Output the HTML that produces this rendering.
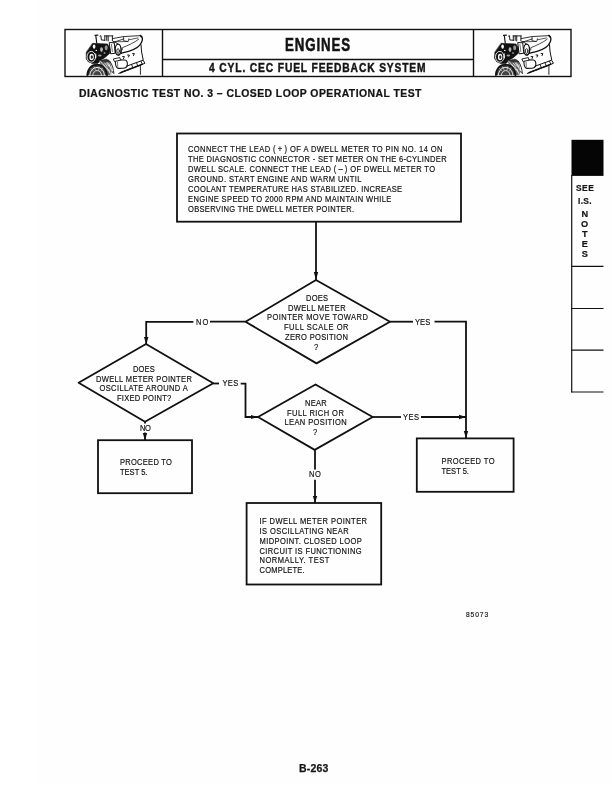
<!DOCTYPE html>
<html><head><meta charset="utf-8">
<style>
html,body{margin:0;padding:0;background:#fff;}
body{width:612px;height:792px;overflow:hidden;position:relative;}
svg{position:absolute;left:0;top:0;will-change:transform;}
text{font-family:"Liberation Sans",sans-serif;fill:#141414;}
.txt text{stroke:#141414;stroke-width:0.18px;}
</style></head><body>
<svg width="612" height="792" viewBox="0 0 612 792">
<defs>
<g id="eng" stroke="#111" fill="none" stroke-linecap="round" stroke-linejoin="round">
  <!-- bracket and top rods -->
  <path d="M95,35.4 L97.9,35.1 M95.8,35.4 L96.7,42.8" stroke-width="1.15"/>
  <path d="M100,36.1 L100.9,35.6 L101.4,40 L104.6,40.2 M104.6,35.9 L112.9,35.9 M104.8,36 V40.6 M106.7,36 V40.4 M108.2,36 V41 M112.4,36.2 V40.9" stroke-width="0.95"/>
  <path d="M114,42.1 L124,38.9" stroke-width="0.8"/>
  <!-- valve cover -->
  <path d="M112.6,38.6 L123.6,36.6 L140.6,35.6" stroke-width="0.85"/>
  <path d="M140.4,35.5 C142.6,36.4 143,39.5 141.6,42.3 C140,46.5 134.5,49.6 128.5,51.3 L121.5,53.2" stroke-width="1.35"/>
  <path d="M140.6,35.7 L141.6,36.9" stroke-width="1.6"/>
  <path d="M122.3,49.8 L122.3,47.7 C128,45.5 134.5,42.5 138.7,39.2" stroke-width="0.75"/>
  <path d="M113.2,41.8 L127.6,41.5 M123.6,36.7 L123.3,40.5 L128.2,41.6 L128.9,38.7 M128.9,39.8 L138,37.9" stroke-width="0.7"/>
  <!-- front black mass -->
  <path d="M92.8,43.3 L107.5,44 L110.4,49 L109.6,53.5 L105,57.5 L100.5,60.5 L97.5,63.5 L92,63.5 L86.2,59 L86.3,52.5 Z" fill="#111" stroke-width="0.6"/>
  <ellipse cx="94.1" cy="46.6" rx="1.3" ry="2.2" fill="#fff" stroke="none"/>
  <ellipse cx="96.3" cy="50.4" rx="0.8" ry="0.7" fill="#fff" stroke="none"/>
  <ellipse cx="101.5" cy="49.6" rx="1.4" ry="2.4" fill="#ddd" stroke="none" opacity="0.8"/>
  <ellipse cx="106.2" cy="47.8" rx="1.5" ry="2.5" fill="#ccc" stroke="none" opacity="0.7"/>
  <ellipse cx="99.8" cy="55.6" rx="1.8" ry="1" fill="#ddd" stroke="none" opacity="0.7"/>
  <ellipse cx="104.5" cy="53" rx="1" ry="0.8" fill="#fff" stroke="none" opacity="0.7"/>
  <!-- water pump pulley -->
  <ellipse cx="91.4" cy="56.7" rx="5.4" ry="6.5" fill="#111" stroke="none"/>
  <ellipse cx="91.3" cy="56.8" rx="4.3" ry="5.4" fill="none" stroke="#fff" stroke-width="0.9"/>
  <ellipse cx="91.6" cy="57" rx="2.2" ry="3.3" fill="#fff" stroke="none"/>
  <ellipse cx="91.8" cy="57.1" rx="1.1" ry="1.8" fill="#222" stroke="none"/>
  <ellipse cx="95.8" cy="56" rx="0.6" ry="3" fill="#fff" stroke="none" opacity="0.8"/>
  <!-- rocker arm bracket & pulley -->
  <path d="M109.6,42.6 L114.2,42.8 L115.3,53.2 L111,53.8 Z" fill="#fff" stroke-width="1"/>
  <path d="M111.4,44.5 L112.4,51.5" stroke-width="0.6"/>
  <path d="M113.5,41.6 C117,42.6 120,45.2 121,48.5 C121.9,52 121,55 118.5,55.4" stroke-width="0.9"/>
  <ellipse cx="118.1" cy="49.6" rx="2.9" ry="5.4" fill="#fff" stroke-width="1.3"/>
  <ellipse cx="118.1" cy="51" rx="1.3" ry="2.3" stroke-width="0.9"/>
  <!-- crank pulley (bottom) -->
  <path d="M99,60.5 L106.5,58.5 L110.2,62 L111.6,68 L111.2,75.3 L104,75.3 Z" fill="#666" stroke="none"/>
  <path d="M100.5,61.5 L104.8,66.5 M103.2,61.2 L107,66 M105.6,61 L109,66.4 M107.6,62.2 L110.4,67.6 M109.3,64.5 L111.2,69.8 M103.8,64.8 L107.6,70.4 M106.5,66.8 L109.6,72.4 M108.8,69.5 L110.8,75" stroke="#fff" stroke-width="0.7"/>
  <path d="M86.4,75.3 C86.6,68.6 90.8,63.8 97,63.8 C103,63.8 107.6,68.5 108,75.3 Z" fill="#444" stroke="none"/>
  <path d="M87.4,75.3 C87.6,69.2 91.5,64.8 97,64.8 C102.5,64.8 106.6,69 107,75.3" stroke="#111" stroke-width="1.6"/>
  <path d="M89.8,75.3 C90.2,70.6 93,67.5 97,67.5 C101,67.5 104,70.4 104.4,75.3" stroke="#fff" stroke-width="0.9"/>
  <path d="M92.8,75.3 C93.2,72.4 94.8,70.6 97.1,70.6 C99.6,70.6 101.2,72.3 101.5,75.3" stroke="#fff" stroke-width="0.8"/>
  <path d="M91,68.5 L93.5,71 M94,66.8 L95.5,69.8 M99,66.8 L98.6,70 M102.5,68 L101,71" stroke="#fff" stroke-width="0.5"/>
  <path d="M99.5,60 L108.5,59.5 L110.5,62 L104,62.8 Z" fill="#222" stroke="none" opacity="0.8"/>
  <path d="M109.8,61.2 C112.5,65 113.5,69 113.9,73.5" stroke-width="0.9"/>
  <!-- 7 marks -->
  <path d="M122.6,56.6 h1.8 l-0.9,2 M127.6,55 h1.8 l-0.9,2 M132.6,53.6 h1.8 l-0.9,2" stroke-width="1"/>
  <!-- alternator -->
  <path d="M115.4,62.5 C115,60.5 117,59.8 119.5,59.9 L124.8,60 C127,60.2 127.5,62.5 127.3,65 C127.1,67.2 125.5,68.3 123,68.3 L118.5,68.4 C116.3,68.4 115.6,66.5 115.4,62.5 Z" fill="#fff" stroke-width="1.1"/>
  <path d="M113.7,58.9 L119.8,57.6 L120.6,60.2 L114.8,61.4 Z" fill="#fff" stroke-width="0.9"/>
  <path d="M117.5,62 L117.8,67" stroke-width="0.6"/>
  <!-- exhaust manifold -->
  <path d="M126.2,66.3 L143.1,60.2 L144.9,63.3 L118.8,73.4" stroke-width="1"/>
  <path d="M120.5,72.8 L124.8,70.9 M124.2,71.3 L128.3,69.6 M127.7,70 L131.8,68.3 M131.2,68.6 L135.3,67 M134.7,67.3 L138.5,65.8 M138,66 L142,64.4" stroke-width="1.5"/>
  <path d="M131.5,64.5 L132.8,67.4 M136.5,62.8 L137.8,65.8 M141,61.3 L142.3,64.2" stroke-width="0.9"/>
  <path d="M140.4,65.2 V74.4" stroke-width="0.9"/>
  <!-- block right edge -->
  <path d="M141,44.8 L141.6,52 L143.2,59.8" stroke-width="1"/>
  <path d="M112,71.2 L112.8,72.8" stroke-width="0.8"/>
</g>
</defs>
<rect id="pagetone" x="37.6" y="0" width="574.4" height="785" fill="#fefefe"/>
<g fill="none" stroke="#111" stroke-width="1.4">
  <rect x="65" y="29.5" width="506" height="47"/>
  <line x1="162.5" y1="29.5" x2="162.5" y2="76.5"/>
  <line x1="473.5" y1="29.5" x2="473.5" y2="76.5"/>
  <line x1="162.5" y1="59.5" x2="473.5" y2="59.5"/>
</g>
<use href="#eng"/>
<use href="#eng" transform="translate(408.5,0)"/>
<g fill="none" stroke="#111" stroke-width="1.8" stroke-linejoin="round">
  <rect x="177" y="133.5" stroke-linejoin="miter" width="284" height="88.2"/>
  <line x1="316" y1="221.7" x2="316" y2="280"/>
  <polygon points="316,280 390,321.7 316.5,363.4 245.5,321.7"/>
  <polyline points="245.5,321.7 210,321.7"/>
  <polyline stroke-linejoin="miter" points="193.4,321.8 146.2,321.8 146.2,344"/>
  <polyline points="390,321.7 413,321.7"/>
  <polyline stroke-linejoin="miter" points="434.5,321.7 466,321.7 466,438.4"/>
  <polygon points="146,344 213.3,383.3 145,421.8 78.6,382.7"/>
  <polyline points="213.3,383.5 219,383.5"/>
  <polyline stroke-linejoin="miter" points="240.7,383.6 245.5,383.6 245.5,417 258,417"/>
  <polygon points="315.5,384.5 372.7,417 314.7,449.9 258,417"/>
  <polyline points="372.7,417 401,417"/>
  <polyline points="421,417 466,417"/>
  <line x1="315" y1="449.9" x2="315" y2="469.4"/>
  <line x1="315" y1="479.7" x2="315" y2="503"/>
  <line x1="145" y1="421.8" x2="145" y2="423.5"/>
  <line x1="145" y1="432.4" x2="145" y2="440.2"/>
  <rect x="98" y="440.2" stroke-linejoin="miter" width="94" height="53"/>
  <rect x="416.8" y="438.4" stroke-linejoin="miter" width="96.8" height="53.4"/>
  <rect x="246.6" y="503" stroke-linejoin="miter" width="134.6" height="81.5"/>
</g>
<g fill="#111">
  <polygon points="313.8,272 318.2,272 316,280"/>
  <polygon points="143.9,337 148.5,337 146.2,344"/>
  <polygon points="463.8,431 468.2,431 466,438.4"/>
  <polygon points="251,414.9 251,419.1 258,417"/>
  <polygon points="459,414.8 459,419.2 466,417"/>
  <polygon points="312.8,496 317.2,496 315,503"/>
  <polygon points="142.8,433 147.2,433 145,440.2"/>
</g>
<rect x="571.5" y="139.8" width="32" height="36.1" fill="#050505"/>
<g stroke="#111" stroke-width="1.2" fill="none">
  <line x1="571.7" y1="175" x2="571.7" y2="392.5"/>
  <line x1="571.5" y1="266.4" x2="603.5" y2="266.4"/>
  <line x1="571.5" y1="308.5" x2="603.5" y2="308.5"/>
  <line x1="571.5" y1="350.2" x2="603.5" y2="350.2"/>
  <line x1="571.5" y1="392" x2="603.5" y2="392"/>
</g>

<g class="txt">
<text id="t1" x="188.00" y="152.30" font-size="8.2" transform="translate(188.00,0) scale(0.92,1) translate(-188.00,0)" textLength="276.60" lengthAdjust="spacing">CONNECT THE LEAD ( + ) OF A DWELL METER TO PIN NO. 14 ON</text>
<text id="t2" x="188.00" y="162.30" font-size="8.2" transform="translate(188.00,0) scale(0.92,1) translate(-188.00,0)" textLength="281.09" lengthAdjust="spacing">THE DIAGNOSTIC CONNECTOR - SET METER ON THE 6-CYLINDER</text>
<text id="t3" x="188.00" y="172.30" font-size="8.2" transform="translate(188.00,0) scale(0.92,1) translate(-188.00,0)" textLength="268.56" lengthAdjust="spacing">DWELL SCALE. CONNECT THE LEAD ( – ) OF DWELL METER TO</text>
<text id="t4" x="188.00" y="182.30" font-size="8.2" transform="translate(188.00,0) scale(0.92,1) translate(-188.00,0)" textLength="188.47" lengthAdjust="spacing">GROUND. START ENGINE AND WARM UNTIL</text>
<text id="t5" x="188.00" y="192.30" font-size="8.2" transform="translate(188.00,0) scale(0.92,1) translate(-188.00,0)" textLength="232.77" lengthAdjust="spacing">COOLANT TEMPERATURE HAS STABILIZED. INCREASE</text>
<text id="t6" x="188.00" y="202.20" font-size="8.2" transform="translate(188.00,0) scale(0.92,1) translate(-188.00,0)" textLength="221.00" lengthAdjust="spacing">ENGINE SPEED TO 2000 RPM AND MAINTAIN WHILE</text>
<text id="t7" x="188.00" y="212.20" font-size="8.2" transform="translate(188.00,0) scale(0.92,1) translate(-188.00,0)" textLength="180.44" lengthAdjust="spacing">OBSERVING THE DWELL METER POINTER.</text>
<text id="d1a" x="306.00" y="300.90" font-size="8.2" transform="translate(306.00,0) scale(0.92,1) translate(-306.00,0)" textLength="23.83" lengthAdjust="spacing">DOES</text>
<text id="d1b" x="288.00" y="310.70" font-size="8.2" transform="translate(288.00,0) scale(0.92,1) translate(-288.00,0)" textLength="62.63" lengthAdjust="spacing">DWELL METER</text>
<text id="d1c" x="267.00" y="320.50" font-size="8.2" transform="translate(267.00,0) scale(0.92,1) translate(-267.00,0)" textLength="109.63" lengthAdjust="spacing">POINTER MOVE TOWARD</text>
<text id="d1d" x="284.00" y="330.30" font-size="8.2" transform="translate(284.00,0) scale(0.92,1) translate(-284.00,0)" textLength="70.15" lengthAdjust="spacing">FULL SCALE OR</text>
<text id="d1e" x="285.00" y="340.10" font-size="8.2" transform="translate(285.00,0) scale(0.92,1) translate(-285.00,0)" textLength="68.37" lengthAdjust="spacing">ZERO POSITION</text>
<text id="d1f" x="314.00" y="349.80" font-size="8.2" transform="translate(314.00,0) scale(0.92,1) translate(-314.00,0)">?</text>
<text id="d2a" x="133.00" y="371.90" font-size="8.2" transform="translate(133.00,0) scale(0.92,1) translate(-133.00,0)" textLength="23.74" lengthAdjust="spacing">DOES</text>
<text id="d2b" x="96.00" y="381.70" font-size="8.2" transform="translate(96.00,0) scale(0.92,1) translate(-96.00,0)" textLength="104.21" lengthAdjust="spacing">DWELL METER POINTER</text>
<text id="d2c" x="99.50" y="391.50" font-size="8.2" transform="translate(99.50,0) scale(0.92,1) translate(-99.50,0)" textLength="95.86" lengthAdjust="spacing">OSCILLATE AROUND A</text>
<text id="d2d" x="117.00" y="401.30" font-size="8.2" transform="translate(117.00,0) scale(0.92,1) translate(-117.00,0)" textLength="58.97" lengthAdjust="spacing">FIXED POINT?</text>
<text id="d3a" x="305.00" y="405.90" font-size="8.2" transform="translate(305.00,0) scale(0.92,1) translate(-305.00,0)" textLength="23.71" lengthAdjust="spacing">NEAR</text>
<text id="d3b" x="287.00" y="415.70" font-size="8.2" transform="translate(287.00,0) scale(0.92,1) translate(-287.00,0)" textLength="61.78" lengthAdjust="spacing">FULL RICH OR</text>
<text id="d3c" x="284.50" y="425.40" font-size="8.2" transform="translate(284.50,0) scale(0.92,1) translate(-284.50,0)" textLength="67.67" lengthAdjust="spacing">LEAN POSITION</text>
<text id="d3d" x="313.00" y="435.20" font-size="8.2" transform="translate(313.00,0) scale(0.92,1) translate(-313.00,0)">?</text>
<text id="l1" x="196.00" y="324.60" font-size="8.2" transform="translate(196.00,0) scale(0.92,1) translate(-196.00,0)" textLength="13.37" lengthAdjust="spacing">NO</text>
<text id="l2" x="415.00" y="324.70" font-size="8.2" transform="translate(415.00,0) scale(0.92,1) translate(-415.00,0)" textLength="16.48" lengthAdjust="spacing">YES</text>
<text id="l3" x="222.50" y="386.10" font-size="8.2" transform="translate(222.50,0) scale(0.92,1) translate(-222.50,0)" textLength="17.13" lengthAdjust="spacing">YES</text>
<text id="l4" x="403.00" y="420.00" font-size="8.2" transform="translate(403.00,0) scale(0.92,1) translate(-403.00,0)" textLength="17.48" lengthAdjust="spacing">YES</text>
<text id="l5" x="140.00" y="430.60" font-size="8.2" transform="translate(140.00,0) scale(0.92,1) translate(-140.00,0)" textLength="11.93" lengthAdjust="spacing">NO</text>
<text id="l6" x="309.00" y="477.50" font-size="8.2" transform="translate(309.00,0) scale(0.92,1) translate(-309.00,0)" textLength="13.02" lengthAdjust="spacing">NO</text>
<text id="b1a" x="120.00" y="465.50" font-size="8.2" transform="translate(120.00,0) scale(0.92,1) translate(-120.00,0)" textLength="56.41" lengthAdjust="spacing">PROCEED TO</text>
<text id="b1b" x="120.00" y="475.50" font-size="8.2" transform="translate(120.00,0) scale(0.92,1) translate(-120.00,0)">TEST 5.</text>
<text id="b2a" x="441.50" y="464.10" font-size="8.2" transform="translate(441.50,0) scale(0.92,1) translate(-441.50,0)" textLength="57.63" lengthAdjust="spacing">PROCEED TO</text>
<text id="b2b" x="441.50" y="474.00" font-size="8.2" transform="translate(441.50,0) scale(0.92,1) translate(-441.50,0)">TEST 5.</text>
<text id="b3a" x="259.50" y="523.90" font-size="8.2" transform="translate(259.50,0) scale(0.92,1) translate(-259.50,0)" textLength="116.89" lengthAdjust="spacing">IF DWELL METER POINTER</text>
<text id="b3b" x="259.50" y="533.80" font-size="8.2" transform="translate(259.50,0) scale(0.92,1) translate(-259.50,0)" textLength="96.97" lengthAdjust="spacing">IS OSCILLATING NEAR</text>
<text id="b3c" x="259.50" y="543.70" font-size="8.2" transform="translate(259.50,0) scale(0.92,1) translate(-259.50,0)" textLength="111.07" lengthAdjust="spacing">MIDPOINT. CLOSED LOOP</text>
<text id="b3d" x="259.50" y="553.60" font-size="8.2" transform="translate(259.50,0) scale(0.92,1) translate(-259.50,0)" textLength="110.99" lengthAdjust="spacing">CIRCUIT IS FUNCTIONING</text>
<text id="b3e" x="259.50" y="563.50" font-size="8.2" transform="translate(259.50,0) scale(0.92,1) translate(-259.50,0)" textLength="76.02" lengthAdjust="spacing">NORMALLY. TEST</text>
<text id="b3f" x="259.50" y="573.30" font-size="8.2" transform="translate(259.50,0) scale(0.92,1) translate(-259.50,0)" textLength="49.11" lengthAdjust="spacing">COMPLETE.</text>
<text id="n1" x="466.00" y="616.70" font-size="7.8" transform="translate(466.00,0) scale(0.86,1) translate(-466.00,0)" textLength="25.75" lengthAdjust="spacing">85073</text>
<text id="pg" x="299.00" y="772.00" font-size="10.5" font-weight="bold" style="stroke-width:0.25px" textLength="29.41" lengthAdjust="spacing">B-263</text>
<text id="ti" x="79.00" y="96.60" font-size="11.2" transform="translate(79.00,0) scale(0.93,1) translate(-79.00,0)" font-weight="bold" style="stroke-width:0.25px" textLength="368.25" lengthAdjust="spacing">DIAGNOSTIC TEST NO. 3 – CLOSED LOOP OPERATIONAL TEST</text>
<text id="s1" x="576.00" y="190.90" font-size="8.4" font-weight="bold" textLength="17.77" lengthAdjust="spacing">SEE</text>
<text id="s2" x="578.00" y="204.00" font-size="8.4" font-weight="bold" textLength="13.58" lengthAdjust="spacing">I.S.</text>
<text id="s3" x="584.70" y="216.80" font-size="9.2" text-anchor="middle" font-weight="bold">N</text>
<text id="s4" x="584.70" y="227.00" font-size="9.2" text-anchor="middle" font-weight="bold">O</text>
<text id="s5" x="584.70" y="237.00" font-size="9.2" text-anchor="middle" font-weight="bold">T</text>
<text id="s6" x="584.70" y="247.20" font-size="9.2" text-anchor="middle" font-weight="bold">E</text>
<text id="s7" x="584.70" y="257.00" font-size="9.2" text-anchor="middle" font-weight="bold">S</text>
<text id="en" x="285.00" y="50.90" font-size="18" transform="translate(285.00,0) scale(0.74,1) translate(-285.00,0)" font-weight="bold" style="stroke-width:0.55px" textLength="88.02" lengthAdjust="spacing">ENGINES</text>
<text id="sub" x="209.00" y="72.40" font-size="12.8" transform="translate(209.00,0) scale(0.8,1) translate(-209.00,0)" font-weight="bold" style="stroke-width:0.45px" textLength="270.76" lengthAdjust="spacing">4 CYL. CEC FUEL FEEDBACK SYSTEM</text>
</g>
</svg>
</body></html>
